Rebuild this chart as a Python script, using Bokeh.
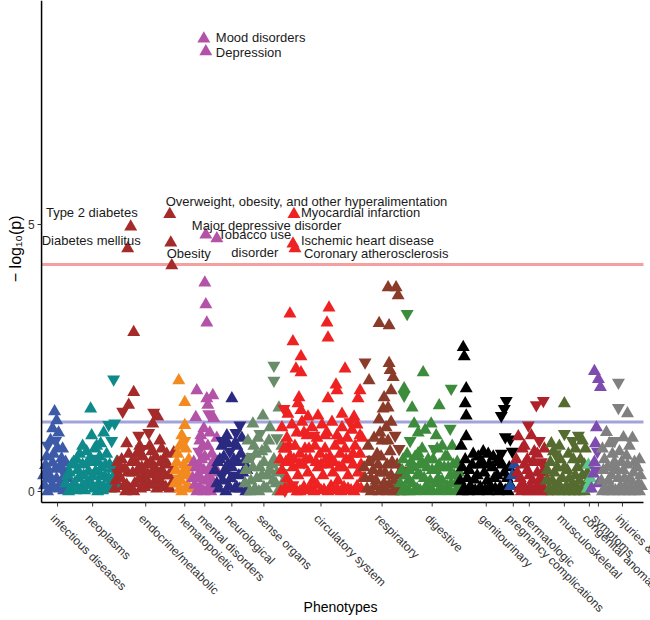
import math
from bokeh.plotting import figure
from bokeh.models import Range1d, ColumnDataSource
from bokeh.core.properties import value
from bokeh.embed import file_html
from bokeh.resources import INLINE

# ---------------- data ----------------
categories = ["infectious diseases", "neoplasms", "endocrine/metabolic", "hematopoietic",
              "mental disorders", "neurological", "sense organs", "circulatory system",
              "respiratory", "digestive", "genitourinary", "pregnancy complications",
              "dermatologic", "musculoskeletal", "congenital anomalies", "symptoms",
              "injuries & poisonings"]
category_ticks = [16, 51, 104, 143, 163, 190, 222, 279, 340, 390, 444, 471, 487, 522, 547, 556, 580]
category_colors = ["#3D5AA8", "#0E8A8A", "#A52A2A", "#F38A1F", "#B452A8", "#2A2A80", "#6A8C6A",
                   "#EE2222", "#8B3B2A", "#3C8C3C", "#000000", "#1E4FA0", "#B0222A", "#556B2F",
                   "#5BC98A", "#7D4CAE", "#808080"]
y_ticks = [0, 5]
y_tick_labels = ["0", "5"]

significance_line = 4.25   # multiple-testing threshold
nominal_line = 1.30        # -log10(0.05)

# (phenotype index, -log10 p); "up" = positive effect, "down" = negative effect
infectious_up = [(13,1.50),(15,1.33),(11,1.18),(17,1.10),(9,0.96),(16,0.81),(12,0.70),(4,0.49),(11,0.54),
                 (19,0.49),(15,0.24),(23,0.30),(6,0.24),(3,0.11),(9,0.06),(17,0.07),(25,0.09),(20,0.62),
                 (5,0.65),(21,0.80),(8,0.30),(14,0.42),(24,0.55),(2,0.30),(19,0.15),(13,0.05),(6,0.00),
                 (22,0.02),(26,0.25)]
infectious_down = [(6,0.86),(7,0.36),(21,0.39),(14,0.95),(10,0.20)]

neoplasms_up = [(49,1.55),(62,1.10),(50,1.05),(55,0.85),(38,0.70),(45,0.75),(58,0.65),(26,0.30),(30,0.50),
                (33,0.15),(36,0.40),(40,0.08),(42,0.30),(46,0.55),(48,0.20),(52,0.05),(54,0.38),(57,0.15),
                (60,0.45),(63,0.28),(66,0.08),(68,0.50),(71,0.20),(74,0.35),(76,0.10),(29,0.05),(44,0.12),
                (62,0.10),(35,0.60),(65,0.70),
                (24,0.15),(28,0.35),(32,0.55),(37,0.25),(41,0.50),(47,0.38),(51,0.28),(56,0.55),(59,0.30),
                (64,0.50),(67,0.25),(70,0.42),(73,0.12),(27,0.00),(34,0.02),(39,0.30),(43,0.02),(50,0.12),
                (56,0.00),(61,0.02),(69,0.05),(75,0.55),(53,0.80),(41,0.85),(59,0.90)]
neoplasms_down = [(72,2.10),(67,1.25),(73,1.28),(70,0.95),(52,0.62)]

endocrine_up = [(89,4.96),(86,4.55),(128,5.19),(129,4.66),(130,4.23),(92,2.98),(92,1.86),(87,1.62),(116,1.40),
                (111,1.27),(132,0.73),(85,0.90),(118,0.95),(122,0.60),(74,0.20),(78,0.45),(82,0.10),(86,0.35),
                (90,0.55),(93,0.15),(96,0.40),(99,0.05),(102,0.30),(105,0.50),(108,0.12),(111,0.35),(114,0.65),
                (117,0.20),(120,0.40),(124,0.08),(127,0.30),(130,0.15),(88,0.05),(104,0.20),(115,0.05),
                (80,0.60),(95,0.70),(108,0.85),(126,0.50),
                (73,0.05),(76,0.55),(79,0.25),(83,0.42),(85,0.12),(87,0.70),(91,0.35),(94,0.55),(97,0.22),
                (100,0.45),(101,0.65),(103,0.08),(106,0.32),(109,0.55),(112,0.15),(113,0.45),(116,0.30),
                (119,0.55),(121,0.12),(123,0.30),(125,0.70),(128,0.05),(131,0.40),(92,0.00),(98,0.85),
                (110,0.75),(120,0.80),(84,0.00)]
endocrine_down = [(81,1.50),(97,1.05),(112,1.48),(107,1.10),(100,0.80),(76,0.35),(119,0.25)]

hematopoietic_up = [(137,2.08),(143,1.67),(143,1.24),(140,1.05),(138,0.85),(135,0.55),(141,0.35),(133,0.15),
                    (138,0.05),(145,0.10),(150,0.25),(147,0.60),
                    (134,0.40),(136,0.70),(139,0.20),(142,0.50),(144,0.80),(148,0.05),(151,0.45),(140,0.00),
                    (146,0.30)]
hematopoietic_down = [(143,0.95),(146,0.45),(137,0.25)]

mental_up = [(162,8.48),(164,8.24),(164,4.81),(175,4.74),(163,3.91),(164,3.50),(165,3.16),(155,1.89),(165,1.74),
             (171,1.80),(166,1.62),(154,1.39),(172,1.37),(162,1.18),(168,1.10),(158,0.95),(175,1.00),(152,0.55),
             (156,0.30),(160,0.60),(164,0.20),(168,0.45),(172,0.15),(176,0.35),(158,0.08),(166,0.05),(153,0.12),
             (170,0.70),(161,0.85),
             (151,0.25),(154,0.45),(157,0.50),(159,0.25),(162,0.40),(163,0.65),(167,0.30),(169,0.20),(171,0.50),
             (174,0.10),(155,0.00),(162,0.00),(169,0.00),(173,0.60),(166,0.85),(159,1.05)]
mental_down = [(167,1.45),(157,0.75)]

neurological_up = [(190,1.74),(185,1.05),(193,0.90),(200,1.00),(178,0.60),(196,0.55),(183,0.40),(201,0.35),
                   (175,0.15),(187,0.10),(195,0.08),(203,0.15),(199,0.70),(190,0.45),(180,0.85),
                   (173,0.40),(176,0.55),(177,0.05),(181,0.20),(182,0.65),(184,0.00),(186,0.50),(189,0.25),
                   (192,0.60),(193,0.05),(197,0.30),(198,0.05),(202,0.55),(204,0.00),(205,0.40),(195,0.85),
                   (186,0.90)]
neurological_down = [(198,1.24),(180,0.95),(188,0.75),(191,0.30),(180,0.30),(194,1.10)]

sense_up = [(237,1.57),(221,1.42),(211,1.27),(228,1.20),(206,0.95),(214,0.70),(224,0.80),(232,0.60),(204,0.40),
            (209,0.20),(218,0.45),(226,0.30),(234,0.15),(213,0.05),(222,0.08),(230,0.50),(216,1.00),(240,0.85),
            (203,0.15),(206,0.60),(208,0.00),(211,0.45),(215,0.25),(217,0.00),(220,0.30),(222,0.55),(225,0.05),
            (228,0.40),(231,0.20),(235,0.35),(236,0.00),(239,0.55),(242,0.20),(212,0.85),(227,0.95),(220,0.75)]
sense_down = [(232,2.36),(232,2.08),(218,1.08),(235,1.00),(240,0.35),(238,0.10),(210,0.65)]

circulatory_up = [(252,5.19),(251,4.64),(253,4.55),(248,3.33),(287,3.44),(285,3.16),(286,2.88),(251,2.81),
                  (259,2.53),(254,2.30),(259,2.23),(303,2.30),(294,2.00),(295,1.89),(286,1.74),(257,1.76),
                  (256,1.65),(259,1.52),(318,1.89),(316,1.74),(246,1.45),(266,1.40),(276,1.42),(300,1.45),
                  (312,1.40),
                  (240,1.20),(245,1.00),(250,1.25),(255,1.10),(260,1.30),(265,1.05),(270,1.20),(275,1.00),
                  (280,1.25),(285,1.10),(290,1.30),(295,1.05),(300,1.20),(305,1.00),(310,1.15),(315,1.25),
                  (320,1.00),
                  (242,0.80),(248,0.65),(253,0.85),(258,0.70),(263,0.80),(268,0.60),(273,0.85),(278,0.70),
                  (283,0.80),(288,0.65),(293,0.85),(298,0.70),(303,0.80),(308,0.60),(313,0.85),(318,0.70),
                  (240,0.40),(245,0.25),(251,0.45),(256,0.30),(261,0.50),(266,0.35),(271,0.20),(276,0.45),
                  (281,0.30),(286,0.50),(291,0.35),(296,0.20),(301,0.45),(306,0.30),(311,0.50),(316,0.35),
                  (321,0.25),
                  (243,0.05),(249,0.10),(255,0.00),(262,0.08),(269,0.05),(275,0.12),(282,0.03),(289,0.10),
                  (295,0.05),(302,0.08),(309,0.02),(315,0.10),
                  (238,0.60),(244,0.55),(247,0.85),(252,0.60),(257,0.50),(264,0.60),(267,0.80),(274,0.55),
                  (279,0.50),(284,0.60),(292,0.55),(297,0.45),(304,0.60),(311,0.70),(319,0.50),(239,0.00),
                  (246,0.05),(258,0.00),(266,0.02),(272,0.00),(279,0.02),(286,0.00),(292,0.02),(299,0.00),
                  (306,0.05),(312,0.00),(319,0.05),(244,0.80),(262,1.10),(283,1.05),(298,0.95),(318,1.05)]
circulatory_down = [(242,1.55),(243,0.02),(251,0.12),(262,0.55),(272,1.05),(308,1.30)]

respiratory_up = [(346,3.82),(354,3.82),(356,3.67),(337,3.15),(347,3.11),(327,2.08),(347,2.40),(348,2.27),
                  (351,2.14),(349,1.89),(342,1.76),(346,1.57),(341,1.55),(337,1.35),(349,1.30),(344,1.20),
                  (332,1.00),(340,0.95),(326,0.85),(335,0.70),(348,0.75),(322,0.45),(329,0.25),(336,0.50),
                  (343,0.35),(350,0.55),(356,0.30),(325,0.05),(333,0.10),(340,0.03),(347,0.12),(354,0.05),
                  (323,0.25),(327,0.55),(331,0.40),(334,0.20),(338,0.35),(339,0.65),(342,0.15),(345,0.50),
                  (349,0.30),(352,0.20),(355,0.50),(358,0.10),(329,0.00),(337,0.00),(345,0.00),(351,0.00),
                  (358,0.00),(338,1.10),(346,0.95)]
respiratory_down = [(323,2.42),(353,1.05),(357,0.80),(360,0.40),(330,0.60)]

digestive_up = [(381,2.23),(362,1.93),(370,1.57),(397,1.61),(389,1.27),(372,1.27),(376,1.10),(383,1.15),
                (394,1.05),(376,0.71),(400,0.85),(365,0.70),(386,0.60),(405,0.65),(360,0.40),(366,0.20),
                (372,0.45),(378,0.30),(384,0.10),(390,0.40),(396,0.25),(402,0.45),(408,0.30),(414,0.15),
                (363,0.05),(369,0.55),(375,0.05),(381,0.50),(387,0.02),(393,0.15),(399,0.05),(405,0.10),
                (411,0.50),(417,0.35),
                (358,0.15),(361,0.60),(364,0.30),(367,0.40),(370,0.15),(373,0.65),(375,0.30),(379,0.55),
                (382,0.25),(385,0.45),(388,0.20),(391,0.60),(394,0.40),(397,0.50),(400,0.20),(403,0.65),
                (406,0.45),(409,0.15),(412,0.30),(415,0.55),(418,0.10),(360,0.00),(367,0.00),(372,0.00),
                (378,0.02),(384,0.00),(390,0.02),(396,0.00),(402,0.02),(408,0.00),(414,0.02),(380,0.80),
                (395,0.80),(410,0.85)]
digestive_down = [(365,3.33),(409,1.93),(362,1.80),(408,1.18),(368,0.95),(392,0.80)]

genitourinary_up = [(421,2.70),(422,2.53),(424,1.93),(423,1.65),(424,1.42),(424,1.03),(419,0.85),(420,0.45),
                    (425,0.25),(430,0.50),(435,0.30),(440,0.55),(445,0.20),(450,0.45),(455,0.30),(460,0.50),
                    (465,0.25),(422,0.05),(428,0.10),(433,0.02),(438,0.08),(443,0.03),(448,0.10),(453,0.05),
                    (458,0.08),(463,0.02),(468,0.12),(431,0.70),(441,0.75),(451,0.65),
                    (418,0.20),(423,0.60),(427,0.40),(432,0.22),(437,0.50),(442,0.35),(447,0.50),(452,0.25),
                    (457,0.55),(462,0.35),(467,0.45),(420,0.00),(426,0.00),(436,0.00),(446,0.00),(456,0.00),
                    (466,0.00),(436,0.65),(446,0.70),(456,0.60)]
genitourinary_down = [(464,1.70),(462,1.55),(459,1.42),(463,1.02),(468,0.98),(459,0.71),(470,0.75)]

pregnancy_up = [(470,0.30),(468,0.10),(472,0.50)]
pregnancy_down = []

dermatologic_up = [(476,1.03),(489,1.05),(480,0.80),(492,0.75),(485,0.60),(475,0.35),(480,0.15),(485,0.40),
                   (490,0.20),(495,0.35),(500,0.10),(477,0.05),(483,0.02),(488,0.08),(493,0.03),(498,0.25),
                   (503,0.45),
                   (474,0.60),(478,0.25),(482,0.50),(487,0.30),(491,0.55),(496,0.15),(501,0.35),(505,0.20),
                   (479,0.00),(486,0.00),(492,0.00),(499,0.00),(505,0.00),(482,0.85),(495,0.70),(502,0.80)]
dermatologic_down = [(494,1.62),(501,1.70),(486,1.24),(497,0.95),(499,0.55)]

musculoskeletal_up = [(522,1.65),(509,0.90),(517,0.85),(543,0.80),(526,0.70),(538,0.60),(505,0.40),(510,0.20),
                      (515,0.45),(520,0.25),(525,0.40),(530,0.15),(535,0.45),(540,0.30),(507,0.05),(513,0.08),
                      (519,0.02),(524,0.10),(529,0.05),(534,0.08),(539,0.03),(544,0.15),
                      (504,0.20),(508,0.55),(512,0.35),(516,0.15),(518,0.60),(522,0.45),(527,0.25),(531,0.60),
                      (533,0.30),(537,0.20),(542,0.50),(545,0.35),(510,0.00),(516,0.00),(522,0.00),(527,0.00),
                      (532,0.00),(537,0.00),(542,0.00),(511,0.75),(533,0.80),(540,0.95)]
musculoskeletal_down = [(522,1.08),(536,1.05),(530,0.95),(513,0.70)]

congenital_up = [(546,0.50),(548,0.25),(545,0.05),(547,0.15)]
congenital_down = []

symptoms_up = [(552,2.25),(556,2.10),(558,1.95),(554,1.20),(553,0.90),(552,0.55),(551,0.33),(556,0.15),(549,0.05)]
symptoms_down = [(555,0.75),(553,0.40)]

injuries_up = [(585,1.46),(564,1.11),(581,1.01),(584,0.67),(560,0.80),(570,0.70),(561,0.40),(566,0.20),
               (571,0.45),(576,0.25),(581,0.40),(586,0.20),(591,0.35),(596,0.15),(563,0.05),(568,0.08),
               (573,0.02),(578,0.10),(583,0.05),(588,0.08),(593,0.03),(598,0.30),
               (559,0.20),(562,0.60),(565,0.45),(567,0.90),(569,0.30),(572,0.55),(575,0.40),(577,0.75),
               (579,0.55),(582,0.25),(585,0.50),(587,0.85),(589,0.20),(592,0.55),(595,0.45),(597,0.60),
               (599,0.10),(560,0.00),(566,0.00),(571,0.00),(577,0.00),(582,0.00),(587,0.00),(592,0.00),
               (597,0.00),(590,1.00)]
injuries_down = [(576,2.04),(576,1.57),(572,0.95)]

all_up = [infectious_up, neoplasms_up, endocrine_up, hematopoietic_up, mental_up, neurological_up, sense_up,
          circulatory_up, respiratory_up, digestive_up, genitourinary_up, pregnancy_up, dermatologic_up,
          musculoskeletal_up, congenital_up, symptoms_up, injuries_up]
all_down = [infectious_down, neoplasms_down, endocrine_down, hematopoietic_down, mental_down, neurological_down,
            sense_down, circulatory_down, respiratory_down, digestive_down, genitourinary_down, pregnancy_down,
            dermatologic_down, musculoskeletal_down, congenital_down, symptoms_down, injuries_down]

# annotated phenotypes (text, phenotype index, -log10 p)
annotated = [("Mood disorders", 162, 8.48), ("Depression", 164, 8.24),
             ("Major depressive disorder", 164, 4.81), ("Tobacco use\ndisorder", 175, 4.74),
             ("Type 2 diabetes", 89, 4.96), ("Diabetes mellitus", 86, 4.55),
             ("Overweight, obesity, and other hyperalimentation", 128, 5.19), ("Obesity", 129, 4.66),
             ("Myocardial infarction", 252, 5.19), ("Ischemic heart disease", 251, 4.64),
             ("Coronary atherosclerosis", 253, 4.55)]
# label placement (pixel offsets, alignment) -- layout only
label_offsets = [(12, -1, "left"), (10, 1, "left"), (-14, -9, "left"), (38, 5, "center"),
                 (7, -14, "right"), (13, -8, "right"), (-4, -13, "left"), (-4, 11, "left"),
                 (7, -2, "left"), (8, -3, "left"), (9, 5, "left")]

# ---------------- layout constants ----------------
FONT = "Liberation Sans"
PX = 53.4                     # pixels per unit of -log10(p)
Y_TOP, Y_BOTTOM = 9.195, -2.416
AXIS_Y = -0.206               # where the x axis line sits
X_MIN, X_MAX = 0, 601         # extent of the phenotype axis
LEFT_MARGIN, RIGHT_MARGIN = 41, 9   # pixels (1 x-unit = 1 pixel)

p = figure(width=650, height=620, output_backend="svg", toolbar_location=None,
           x_range=Range1d(X_MIN - LEFT_MARGIN, X_MAX + RIGHT_MARGIN - 2), y_range=Range1d(Y_BOTTOM, Y_TOP),
           min_border_left=0, min_border_right=0, min_border_top=0, min_border_bottom=0)
p.outline_line_color = None
p.grid.visible = False
p.xaxis.visible = False
p.yaxis.visible = False
p.background_fill_color = "white"

# reference lines
p.segment(x0=[X_MIN, X_MIN], y0=[significance_line, nominal_line], x1=[X_MAX, X_MAX],
          y1=[significance_line, nominal_line], line_color=["#F4A0A0", "#A3A3DC"], line_width=3)

for col, ups, downs in zip(category_colors, all_up, all_down):
    if ups:
        p.scatter(x=[u[0] for u in ups], y=[u[1] for u in ups], marker="triangle", size=13,
                  fill_color=col, line_color=None)
    if downs:
        p.scatter(x=[d[0] for d in downs], y=[d[1] for d in downs], marker="inverted_triangle", size=13,
                  fill_color=col, line_color=None)

lab = ColumnDataSource(dict(
    x=[a[1] for a in annotated], y=[a[2] for a in annotated], text=[a[0] for a in annotated],
    xo=[o[0] for o in label_offsets], yo=[o[1] for o in label_offsets], al=[o[2] for o in label_offsets]))
p.text(x="x", y="y", text="text", x_offset="xo", y_offset="yo", text_align="al", source=lab,
       text_baseline="middle", text_font=value(FONT), text_font_size="13px", text_color="#1a1a1a",
       text_line_height=1.15)

# ---- x axis (drawn by hand so the rotated labels can hang down freely) ----
p.segment(x0=[X_MIN], y0=[AXIS_Y], x1=[X_MAX], y1=[AXIS_Y], line_color="black", line_width=1.5)
p.segment(x0=category_ticks, y0=[AXIS_Y] * len(category_ticks), x1=category_ticks,
          y1=[AXIS_Y - 4 / PX] * len(category_ticks), line_color="#333333", line_width=1)
p.text(x=category_ticks, y=[AXIS_Y - 9 / PX] * len(category_ticks), text=categories,
       angle=-math.pi / 4, text_align="left", text_baseline="top",
       text_font=value(FONT), text_font_size="12px", text_color="#333333")
p.text(x=[(X_MIN + X_MAX) / 2 - 2], y=[AXIS_Y - 105 / PX], text=["Phenotypes"], text_align="center",
       text_baseline="middle", text_font=value(FONT), text_font_size="14px", text_color="black")

# ---- y axis ----
p.segment(x0=[X_MIN], y0=[AXIS_Y], x1=[X_MIN], y1=[Y_TOP], line_color="black", line_width=1.5)
p.segment(x0=[X_MIN] * len(y_ticks), y0=y_ticks, x1=[X_MIN - 4] * len(y_ticks), y1=y_ticks,
          line_color="#333333", line_width=1)
p.text(x=[X_MIN - 7] * len(y_ticks), y=y_ticks, text=y_tick_labels, text_align="right",
       text_baseline="middle", text_font=value(FONT), text_font_size="12px", text_color="#333333")
p.text(x=[X_MIN - 26], y=[(AXIS_Y + Y_TOP) / 2 + 0.05], text=["\u2212 log\u2081\u2080(p)"],
       angle=math.pi / 2, text_align="center", text_baseline="middle",
       text_font=value(FONT), text_font_size="16px", text_color="black")

open("out.html", "w").write(file_html(p, INLINE))
